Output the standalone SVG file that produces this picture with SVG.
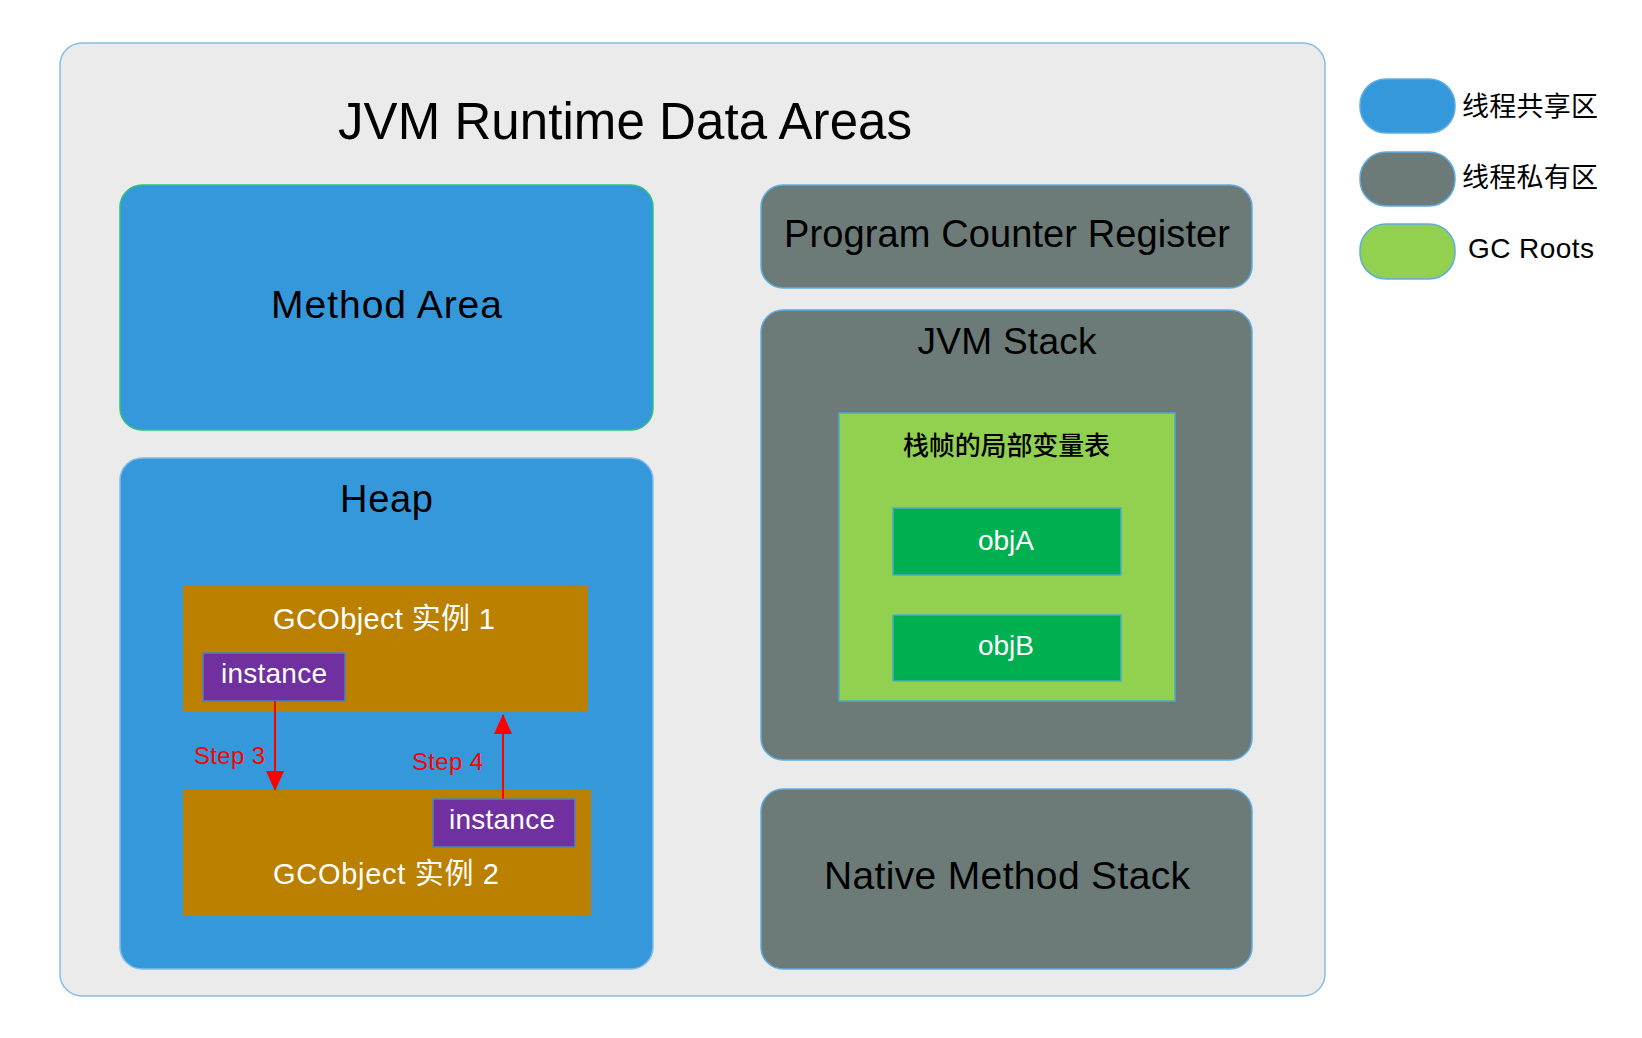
<svg xmlns="http://www.w3.org/2000/svg" width="1642" height="1038" viewBox="0 0 1642 1038">
  <defs>
    <marker id="arrowRed" viewBox="0 0 20 18" refX="19" refY="9" markerWidth="20" markerHeight="18" markerUnits="userSpaceOnUse" orient="auto">
      <path d="M0,0 L20,9 L0,18 Z" fill="#FF0000"/>
    </marker>
  </defs>
  <style>
    .lat { font-family: "Liberation Sans", "Noto Sans CJK SC", sans-serif; }
    .cjk { font-family: "Noto Sans CJK SC", "Liberation Sans", sans-serif; }
    .blk { fill: #000000; }
    .wht { fill: #FFFFFF; }
    .red { fill: #FF0000; }
    .shared { fill: #3598DB; }
    .private { fill: #6C7A78; stroke: #5DADE2; stroke-width: 1.5; }
    .gcroot { fill: #92D050; stroke: #4BACC6; stroke-width: 1.5; }
    .gcobj { fill: #BB8000; }
    .inst { fill: #7030A0; stroke: #4F81BD; stroke-width: 1.5; }
    .obj { fill: #00B050; stroke: #4BACC6; stroke-width: 1.5; }
    .conn { stroke: #FF0000; stroke-width: 2; fill: none; }
  </style>
  <rect width="1642" height="1038" fill="#FFFFFF"/>

  <g id="runtime-data-areas">
    <rect x="60" y="43" width="1265" height="953" rx="22" fill="#EBEBEB" stroke="#85BDE8" stroke-width="1.5"/>
    <text class="lat blk" x="625" y="139" font-size="51" text-anchor="middle" textLength="574">JVM Runtime Data Areas</text>
  </g>

  <g id="method-area">
    <rect class="shared" x="120" y="185" width="533" height="245" rx="22" stroke="#2EC27E" stroke-width="1.5"/>
    <text class="lat blk" x="386.5" y="318" font-size="39" text-anchor="middle" textLength="231">Method Area</text>
  </g>

  <g id="heap">
    <rect class="shared" x="120" y="458" width="533" height="511" rx="22" stroke="#85BDE8" stroke-width="1.5"/>
    <text class="lat blk" x="386.5" y="512" font-size="38" text-anchor="middle" textLength="93">Heap</text>
  </g>

  <g id="gcobject-1">
    <rect class="gcobj" x="183" y="586" width="405" height="126"/>
    <text class="lat wht" x="384" y="629" font-size="29" text-anchor="middle" textLength="222">GCObject 实例 1</text>
  </g>

  <g id="instance-1">
    <rect class="inst" x="203" y="653" width="142" height="48"/>
    <text class="lat wht" x="274" y="683" font-size="28" text-anchor="middle" textLength="106">instance</text>
  </g>

  <g id="gcobject-2">
    <rect class="gcobj" x="183" y="790" width="408" height="126"/>
    <text class="lat wht" x="386" y="884" font-size="29" text-anchor="middle" textLength="226">GCObject 实例 2</text>
  </g>

  <g id="instance-2">
    <rect class="inst" x="433" y="799" width="142" height="48"/>
    <text class="lat wht" x="502" y="829" font-size="28" text-anchor="middle" textLength="106">instance</text>
  </g>

  <g id="program-counter-register">
    <rect class="private" x="761" y="185" width="491" height="103" rx="22"/>
    <text class="lat blk" x="1007" y="247" font-size="38" text-anchor="middle" textLength="446">Program Counter Register</text>
  </g>

  <g id="jvm-stack">
    <rect class="private" x="761" y="310" width="491" height="450" rx="22"/>
    <text class="lat blk" x="1007" y="354" font-size="37" text-anchor="middle" textLength="179">JVM Stack</text>
  </g>

  <g id="local-variable-table">
    <rect class="gcroot" x="839" y="413" width="336" height="288"/>
    <text class="cjk blk" x="1006.5" y="455" font-size="26" font-weight="500" text-anchor="middle" textLength="207">栈帧的局部变量表</text>
  </g>

  <g id="objA">
    <rect class="obj" x="893" y="508" width="228" height="67"/>
    <text class="lat wht" x="1006" y="550" font-size="28" text-anchor="middle">objA</text>
  </g>

  <g id="objB">
    <rect class="obj" x="893" y="615" width="228" height="66"/>
    <text class="lat wht" x="1006" y="655" font-size="28" text-anchor="middle">objB</text>
  </g>

  <g id="native-method-stack">
    <rect class="private" x="761" y="789" width="491" height="180" rx="22"/>
    <text class="lat blk" x="1007" y="889" font-size="39" text-anchor="middle" textLength="366">Native Method Stack</text>
  </g>

  <g id="connectors">
    <line class="conn" x1="275" y1="701" x2="275" y2="790" marker-end="url(#arrowRed)"/>
    <text class="lat red" x="194" y="764" font-size="24" textLength="71">Step 3</text>
    <line class="conn" x1="503" y1="799" x2="503" y2="715" marker-end="url(#arrowRed)"/>
    <text class="lat red" x="412" y="770" font-size="24" textLength="71">Step 4</text>
  </g>

  <g id="legend-shared">
    <rect x="1360" y="79" width="95" height="54" rx="26" fill="#3598DB" stroke="#5DADE2" stroke-width="1.5"/>
    <text class="cjk blk" x="1462" y="116" font-size="27" textLength="136">线程共享区</text>
  </g>
  <g id="legend-private">
    <rect x="1360" y="152" width="95" height="54" rx="26" fill="#6C7A78" stroke="#5DADE2" stroke-width="1.5"/>
    <text class="cjk blk" x="1462" y="187" font-size="27" textLength="136">线程私有区</text>
  </g>
  <g id="legend-gcroots">
    <rect x="1360" y="224" width="95" height="55" rx="26" fill="#92D050" stroke="#5DADE2" stroke-width="1.5"/>
    <text class="lat blk" x="1468" y="258" font-size="28" textLength="126">GC Roots</text>
  </g>
</svg>
